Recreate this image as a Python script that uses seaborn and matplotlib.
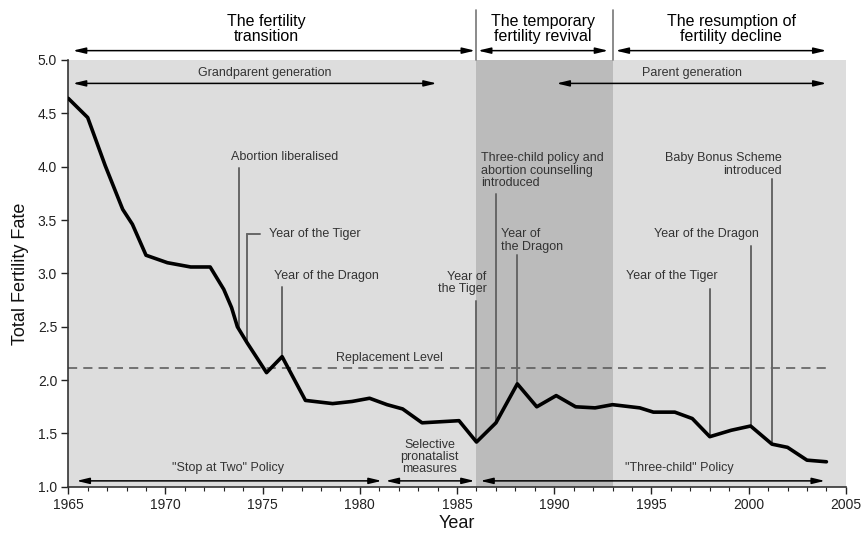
import numpy as np
import pandas as pd
import matplotlib
matplotlib.use("Agg")
import matplotlib.pyplot as plt
from matplotlib.ticker import MultipleLocator, FormatStrFormatter
import seaborn as sns

# -------------------------------
# Data
# -------------------------------
years = [1965.0, 1966.0, 1966.9, 1967.8, 1968.3, 1969.0, 1970.1, 1971.3, 1972.3,
         1973.0, 1973.4, 1973.7, 1974.2, 1975.2, 1976.0, 1977.2, 1978.6, 1979.6,
         1980.5, 1981.4, 1982.2, 1983.2, 1985.1, 1986.0, 1987.0, 1988.1, 1989.1,
         1990.1, 1991.1, 1992.1, 1993.0, 1994.4, 1995.1, 1996.2, 1997.1, 1998.0,
         1999.1, 2000.1, 2001.2, 2002.0, 2003.0, 2004.0]
tfr = [4.64, 4.46, 4.01, 3.60, 3.46, 3.17, 3.10, 3.06, 3.06,
       2.85, 2.68, 2.50, 2.35, 2.07, 2.22, 1.81, 1.78, 1.80,
       1.83, 1.77, 1.73, 1.60, 1.62, 1.42, 1.60, 1.965, 1.75,
       1.855, 1.75, 1.74, 1.77, 1.74, 1.70, 1.70, 1.64, 1.47,
       1.53, 1.57, 1.40, 1.37, 1.25, 1.235]
replacement_level = 2.11

phase_titles = ["The fertility\ntransition", "The temporary\nfertility revival",
                "The resumption of\nfertility decline"]

# events: label, year of the marker line, top of the marker line
event_labels = ["Abortion liberalised", "Year of the Tiger", "Year of the Dragon",
                "Year of\nthe Tiger", "Three-child policy and\nabortion counselling\nintroduced",
                "Year of\nthe Dragon", "Year of the Tiger", "Year of the Dragon",
                "Baby Bonus Scheme\nintroduced"]
event_years = [1973.8, 1974.2, 1976.0, 1986.0, 1987.0, 1988.1, 1998.0, 2000.1, 2001.2]
event_tops = [3.99, 3.37, 2.87, 2.74, 3.74, 3.17, 2.855, 3.255, 3.88]

df = pd.DataFrame({"Year": years, "TFR": tfr})

# -------------------------------
# Figure
# -------------------------------
sns.set_style("ticks")
plt.rcParams['font.family'] = ['Liberation Sans', 'DejaVu Sans']

fig = plt.figure(figsize=(8.64, 5.35), dpi=100)
ax = fig.add_axes([0.079, 0.090, 0.900, 0.798])
ax.set_facecolor('#dddddd')
ax.axvspan(1986, 1993, color='#bbbbbb', lw=0, zorder=0)

ax.axhline(replacement_level, xmin=0, xmax=39 / 40, color='#555555', lw=1.1,
           dashes=(6, 4), zorder=1)
ax.text(1981.5, 2.21, "Replacement Level", ha='center', va='center',
        fontsize=9, color='#333333')

# event marker lines
text_color = '#333333'
for yr, top in zip(event_years, event_tops):
    bottom = np.interp(yr, years, tfr)
    ax.plot([yr, yr], [top, bottom], color='#666666', lw=1.4, zorder=2)
ax.plot([1974.2, 1974.86], [3.37, 3.37], color='#666666', lw=1.4, zorder=2)

# event texts (position, alignment)
ev_kw = dict(fontsize=9, color=text_color, va='center', linespacing=1.05)
ax.text(1976.13, 4.09, event_labels[0], ha='center', **ev_kw)
ax.text(1975.34, 3.37, event_labels[1], ha='left', **ev_kw)
ax.text(1978.3, 2.98, event_labels[2], ha='center', **ev_kw)
ax.text(1986.52, 2.91, event_labels[3], ha='right', multialignment='right', **ev_kw)
ax.text(1986.23, 3.96, event_labels[4], ha='left', **ev_kw)
ax.text(1987.26, 3.31, event_labels[5], ha='left', **ev_kw)
ax.text(1996.05, 2.98, event_labels[6], ha='center', **ev_kw)
ax.text(1997.81, 3.37, event_labels[7], ha='center', **ev_kw)
ax.text(2001.7, 4.02, event_labels[8], ha='right', multialignment='right', **ev_kw)

# TFR line
sns.lineplot(data=df, x="Year", y="TFR", color='black', lw=2.6, ax=ax,
             sort=False, zorder=3)


def arrow(x0, x1, y):
    ax.annotate('', xy=(x1, y), xytext=(x0, y),
                arrowprops=dict(arrowstyle='<|-|>,head_length=0.75,head_width=0.18',
                                color='black', lw=1.1, shrinkA=0, shrinkB=0),
                annotation_clip=False, zorder=4)


# phase arrows above the axes
arrow(1965.24, 1985.92, 5.087)
arrow(1986.08, 1992.77, 5.087)
arrow(1993.16, 2004.0, 5.087)
for xs in (1986, 1993):
    ax.plot([xs, xs], [5.0, 5.47], color='#777777', lw=1.2, clip_on=False)
for title, xc in zip(phase_titles, [1975.2, 1989.4, 1999.1]):
    ax.text(xc, 5.29, title, ha='center', va='center', fontsize=11.5,
            color='black', linespacing=1.0, clip_on=False)

# generation arrows
arrow(1965.24, 1983.95, 4.78)
arrow(1990.12, 2004.0, 4.78)
ax.text(1975.12, 4.875, "Grandparent generation", ha='center', va='center',
        fontsize=9, color=text_color)
ax.text(1997.08, 4.88, "Parent generation", ha='center', va='center',
        fontsize=9, color=text_color)

# policy arrows at the bottom
arrow(1965.43, 1981.12, 1.056)
arrow(1981.33, 1985.9, 1.056)
arrow(1986.2, 2003.92, 1.056)
ax.text(1973.23, 1.18, '"Stop at Two" Policy', ha='center', va='center',
        fontsize=9, color=text_color)
ax.text(1983.6, 1.28, "Selective\npronatalist\nmeasures", ha='center', va='center',
        fontsize=9, color=text_color, linespacing=1.0)
ax.text(1996.41, 1.18, '"Three-child" Policy', ha='center', va='center',
        fontsize=9, color=text_color)

# axes
ax.set_xlim(1965, 2005)
ax.set_ylim(1.0, 5.0)
ax.set_xticks(range(1965, 2006, 5))
ax.xaxis.set_minor_locator(MultipleLocator(1))
ax.set_yticks(np.arange(1.0, 5.01, 0.5))
ax.yaxis.set_major_formatter(FormatStrFormatter('%.1f'))
ax.tick_params(axis='both', which='major', direction='out', length=5, width=1,
               labelsize=10, colors='#222222', pad=3)
ax.tick_params(axis='x', which='minor', direction='out', length=3, width=0.8,
               colors='#222222')
for side in ('top', 'right'):
    ax.spines[side].set_visible(False)
for side in ('left', 'bottom'):
    ax.spines[side].set_color('#333333')
    ax.spines[side].set_linewidth(1.2)

ax.set_xlabel("Year", fontsize=13, color='#111111', labelpad=2)
ax.set_ylabel("Total Fertility Fate", fontsize=13, color='#111111', labelpad=6)

fig.savefig("out.png", dpi=100)
